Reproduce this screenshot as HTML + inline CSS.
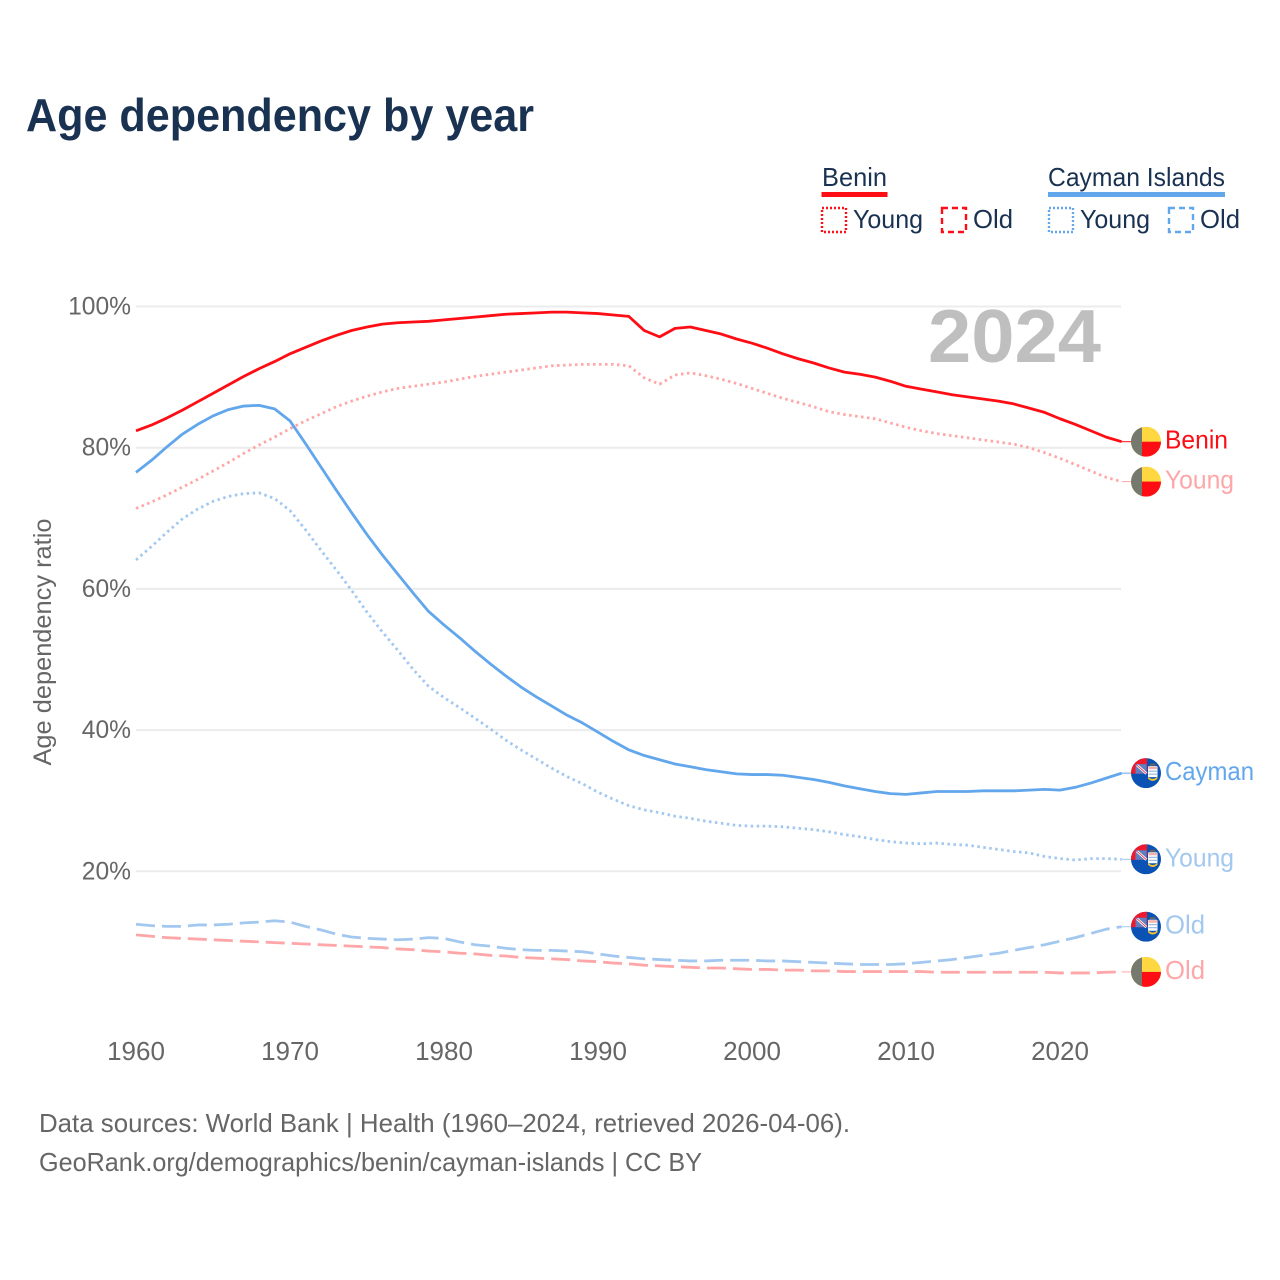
<!DOCTYPE html>
<html lang="en">
<head>
<meta charset="utf-8">
<title>Age dependency by year</title>
<style>
html,body{margin:0;padding:0;background:#fff;}
svg{display:block;font-family:"Liberation Sans",sans-serif;}
</style>
</head>
<body>
<svg id="chart" xmlns="http://www.w3.org/2000/svg" width="1280" height="1280" viewBox="0 0 1280 1280">
  <defs>
    <clipPath id="flag-clip"><circle cx="0" cy="0" r="15"/></clipPath>
    <g id="flag-benin" clip-path="url(#flag-clip)">
      <rect x="-15" y="-15" width="30" height="30" fill="#ffd740"/>
      <rect x="-4" y="0" width="19" height="15" fill="#fe0d14"/>
      <rect x="-15" y="-15" width="11" height="30" fill="#767a6e"/>
    </g>
    <g id="flag-cayman" clip-path="url(#flag-clip)">
      <rect x="-15" y="-15" width="30" height="30" fill="#0a52b3"/>
      <rect x="-15" y="-15" width="16" height="15.5" fill="#f0182c"/>
      <rect x="-10.5" y="-9" width="11" height="9.5" fill="#5f7fc0"/>
      <path d="M-9,-8 L0.5,0.5" stroke="#fff" stroke-width="2.6"/>
      <path d="M-9,-8 L0.5,0.5" stroke="#e9303f" stroke-width="0.8"/>
      <rect x="2" y="-7" width="9.5" height="11" rx="1" fill="#fff"/>
      <path d="M2.5,-2 h8.5 M2.5,1 h8.5" stroke="#8fb8e4" stroke-width="1.1"/>
      <rect x="2.5" y="-6.5" width="8.5" height="2.5" fill="#f3b0a8"/>
      <rect x="4" y="-9.5" width="5.5" height="2" fill="#66665e"/>
      <path d="M2,3.5 Q6.7,8 11.5,3.5 L11.5,5.5 Q6.7,10 2,5.5 Z" fill="#f2c230"/>
    </g>
  </defs>

  <text x="26" y="131" font-size="46" font-weight="700" fill="#1a3252" textLength="508" lengthAdjust="spacingAndGlyphs">Age dependency by year</text>

  <g>
    <g>
      <text x="822" y="186" font-size="26" fill="#1a3252" textLength="65" lengthAdjust="spacingAndGlyphs">Benin</text>
      <rect x="821.5" y="192" width="66" height="5" fill="#fe0d14"/>
      <rect x="822" y="208" width="24" height="24" fill="none" stroke="#fe0d14" stroke-width="2.4" stroke-dasharray="2 2"/>
      <text x="853" y="228" font-size="26" fill="#1a3252" textLength="70" lengthAdjust="spacingAndGlyphs">Young</text>
      <rect x="942" y="208" width="24" height="24" fill="none" stroke="#fe0d14" stroke-width="2.4" stroke-dasharray="6 4"/>
      <text x="973" y="228" font-size="26" fill="#1a3252" textLength="40" lengthAdjust="spacingAndGlyphs">Old</text>
    </g>
    <g>
      <text x="1048" y="186" font-size="26" fill="#1a3252" textLength="177" lengthAdjust="spacingAndGlyphs">Cayman Islands</text>
      <rect x="1048" y="192" width="177" height="5" fill="#62a6ec"/>
      <rect x="1049" y="208" width="24" height="24" fill="none" stroke="#62a6ec" stroke-width="2.4" stroke-dasharray="2 2"/>
      <text x="1080" y="228" font-size="26" fill="#1a3252" textLength="70" lengthAdjust="spacingAndGlyphs">Young</text>
      <rect x="1169" y="208" width="24" height="24" fill="none" stroke="#62a6ec" stroke-width="2.4" stroke-dasharray="6 4"/>
      <text x="1200" y="228" font-size="26" fill="#1a3252" textLength="40" lengthAdjust="spacingAndGlyphs">Old</text>
    </g>
  </g>

  <g id="grid"></g>
  <text x="928" y="362" font-size="75" font-weight="700" fill="#bfbfbf" textLength="173" lengthAdjust="spacingAndGlyphs">2024</text>
  <g id="y-ticks"></g>
  <g id="x-ticks"></g>
  <text transform="translate(51,642) rotate(-90)" text-anchor="middle" font-size="25" fill="#666" textLength="247" lengthAdjust="spacingAndGlyphs">Age dependency ratio</text>
  <g id="series"></g>
  <g id="end-labels"></g>

  <text x="39" y="1132" font-size="26" fill="#666" textLength="811" lengthAdjust="spacingAndGlyphs">Data sources: World Bank | Health (1960–2024, retrieved 2026-04-06).</text>
  <text x="39" y="1171" font-size="26" fill="#666" textLength="663" lengthAdjust="spacingAndGlyphs">GeoRank.org/demographics/benin/cayman-islands | CC BY</text>
</svg>
<script>
var startYear = 1960;
var xTickYears = [1960, 1970, 1980, 1990, 2000, 2010, 2020];
var yTickValues = [100, 80, 60, 40, 20];

var beninTotal = [
  82.4,83.2,84.2,85.3,86.5,87.7,88.9,90.1,91.2,92.2,
  93.3,94.2,95.1,95.9,96.6,97.1,97.5,97.7,97.8,97.9,
  98.1,98.3,98.5,98.7,98.9,99.0,99.1,99.2,99.2,99.1,
  99.0,98.8,98.6,96.6,95.7,96.9,97.1,96.6,96.1,95.4,
  94.8,94.1,93.3,92.6,92.0,91.3,90.7,90.4,90.0,89.4,
  88.7,88.3,87.9,87.5,87.2,86.9,86.6,86.2,85.6,85.0,
  84.1,83.3,82.4,81.5,80.85
];
var beninYoung = [
  71.4,72.3,73.3,74.4,75.5,76.7,77.9,79.2,80.4,81.5,
  82.7,83.8,84.8,85.8,86.6,87.3,87.9,88.4,88.7,89.0,
  89.3,89.7,90.1,90.4,90.7,91.0,91.3,91.6,91.7,91.8,
  91.8,91.8,91.6,89.9,89.0,90.3,90.6,90.2,89.7,89.1,
  88.4,87.7,87.0,86.4,85.8,85.1,84.7,84.4,84.1,83.5,
  82.9,82.4,82.0,81.7,81.4,81.1,80.8,80.5,80.0,79.3,
  78.5,77.6,76.7,75.8,75.2
];
var beninOld = [
  11.0,10.8,10.6,10.5,10.4,10.3,10.2,10.1,10.0,9.9,
  9.8,9.7,9.6,9.5,9.4,9.3,9.2,9.0,8.9,8.7,
  8.6,8.4,8.3,8.1,8.0,7.8,7.7,7.6,7.5,7.3,
  7.2,7.0,6.9,6.7,6.6,6.5,6.4,6.3,6.3,6.2,
  6.1,6.1,6.0,6.0,5.9,5.9,5.8,5.8,5.8,5.8,
  5.8,5.8,5.7,5.7,5.7,5.7,5.7,5.7,5.7,5.7,
  5.6,5.6,5.6,5.7,5.75
];
var caymanTotal = [
  76.5,78.2,80.1,81.9,83.3,84.5,85.4,85.9,86.0,85.5,
  83.8,80.6,77.3,74.0,70.8,67.7,64.8,62.1,59.4,56.8,
  54.9,53.1,51.2,49.4,47.7,46.1,44.7,43.4,42.1,41.0,
  39.7,38.4,37.2,36.4,35.8,35.2,34.8,34.4,34.1,33.8,
  33.7,33.7,33.6,33.3,33.0,32.6,32.1,31.7,31.3,31.0,
  30.9,31.1,31.3,31.3,31.3,31.4,31.4,31.4,31.5,31.6,
  31.5,31.9,32.5,33.2,33.9
];
var caymanYoung = [
  64.1,66.0,68.0,69.9,71.3,72.4,73.1,73.5,73.6,72.8,
  71.1,68.4,65.5,62.7,59.8,56.7,53.9,51.3,48.6,46.2,
  44.6,43.2,41.7,40.2,38.6,37.2,35.9,34.6,33.4,32.4,
  31.2,30.2,29.3,28.7,28.3,27.8,27.5,27.1,26.8,26.5,
  26.4,26.4,26.3,26.1,25.9,25.6,25.2,24.9,24.5,24.2,
  24.0,23.9,24.0,23.8,23.7,23.4,23.1,22.8,22.6,22.1,
  21.8,21.6,21.8,21.8,21.7
];
var caymanOld = [
  12.5,12.3,12.2,12.2,12.4,12.4,12.5,12.7,12.8,13.0,
  12.8,12.2,11.7,11.1,10.7,10.5,10.4,10.3,10.4,10.6,
  10.5,10.0,9.6,9.4,9.1,8.9,8.8,8.8,8.7,8.6,
  8.3,8.0,7.8,7.6,7.5,7.4,7.3,7.3,7.4,7.4,
  7.4,7.3,7.3,7.2,7.1,7.0,6.9,6.8,6.8,6.8,
  6.9,7.1,7.3,7.5,7.8,8.1,8.4,8.8,9.2,9.6,
  10.1,10.6,11.2,11.8,12.15
];

var SVG_NS = 'http://www.w3.org/2000/svg';
var RED = '#fe0d14', BLUE = '#62a6ec', LIGHT_RED = '#ffa6a8', LIGHT_BLUE = '#a3c8f0';
var DOTTED = '2.5 3.5', DASHED = '19 7';

function xScale(year) { return 136 + (year - 1960) * 15.4; }
function yScale(value) { return 1012.5 - value * 7.06; }
function make(tag, parent) {
  var el = document.createElementNS(SVG_NS, tag);
  parent.appendChild(el);
  return el;
}
function linePath(values) {
  var d = '';
  for (var i = 0; i < values.length; i++) {
    d += (i ? 'L' : 'M') + xScale(startYear + i).toFixed(2) + ',' + yScale(values[i]).toFixed(2);
  }
  return d;
}

var gridLayer = document.getElementById('grid');
var yLayer = document.getElementById('y-ticks');
yTickValues.forEach(function (v) {
  var line = make('line', gridLayer);
  
  
  line.setAttribute('x1', 136);
  line.setAttribute('x2', 1121);
  line.setAttribute('y1', yScale(v));
  line.setAttribute('y2', yScale(v));
  line.setAttribute('stroke', '#ececec');
  line.setAttribute('stroke-width', 2);
  var t = make('text', yLayer);
  
  
  t.setAttribute('x', 131);
  t.setAttribute('y', yScale(v) + 8);
  t.setAttribute('text-anchor', 'end');
  t.setAttribute('font-size', 24.6);
  t.setAttribute('fill', '#666');
  t.textContent = v + '%';
});

var xLayer = document.getElementById('x-ticks');
xTickYears.forEach(function (yr) {
  var t = make('text', xLayer);
  
  
  t.setAttribute('x', xScale(yr));
  t.setAttribute('y', 1060);
  t.setAttribute('text-anchor', 'middle');
  t.setAttribute('font-size', 26);
  t.setAttribute('fill', '#666');
  t.textContent = yr;
});

var seriesLayer = document.getElementById('series');
function drawSeries(name, values, color, dash, width) {
  var p = make('path', seriesLayer);
  
  
  p.setAttribute('d', linePath(values));
  p.setAttribute('fill', 'none');
  p.setAttribute('stroke', color);
  p.setAttribute('stroke-width', width);
  p.setAttribute('stroke-linejoin', 'round');
  if (dash) p.setAttribute('stroke-dasharray', dash);
}
drawSeries('line-benin-old', beninOld, LIGHT_RED, DASHED, 2.8);
drawSeries('line-cayman-old', caymanOld, LIGHT_BLUE, DASHED, 2.8);
drawSeries('line-cayman-young', caymanYoung, LIGHT_BLUE, DOTTED, 2.8);
drawSeries('line-benin-young', beninYoung, LIGHT_RED, DOTTED, 2.8);
drawSeries('line-cayman-total', caymanTotal, BLUE, null, 2.8);
drawSeries('line-benin-total', beninTotal, RED, null, 2.8);

var labelLayer = document.getElementById('end-labels');
function drawEnd(key, values, flag, text, color, textWidth) {
  var last = values[values.length - 1];
  var y = yScale(last);
  var lead = make('line', labelLayer);
  
  
  lead.setAttribute('x1', xScale(startYear + values.length - 1));
  lead.setAttribute('x2', 1132);
  lead.setAttribute('y1', y);
  lead.setAttribute('y2', y);
  lead.setAttribute('stroke', color);
  lead.setAttribute('stroke-width', 1);
  var u = make('use', labelLayer);
  
  
  u.setAttribute('href', '#' + flag);
  u.setAttribute('transform', 'translate(1146,' + y + ')');
  var t = make('text', labelLayer);
  
  
  t.setAttribute('x', 1165);
  t.setAttribute('y', y + 7);
  t.setAttribute('font-size', 26);
  t.setAttribute('fill', color);
  t.setAttribute('textLength', textWidth);
  t.setAttribute('lengthAdjust', 'spacingAndGlyphs');
  t.textContent = text;
}
drawEnd('end-benin-total', beninTotal, 'flag-benin', 'Benin', RED, 63);
drawEnd('end-benin-young', beninYoung, 'flag-benin', 'Young', LIGHT_RED, 69);
drawEnd('end-cayman-total', caymanTotal, 'flag-cayman', 'Cayman', BLUE, 89);
drawEnd('end-cayman-young', caymanYoung, 'flag-cayman', 'Young', LIGHT_BLUE, 69);
drawEnd('end-cayman-old', caymanOld, 'flag-cayman', 'Old', LIGHT_BLUE, 40);
drawEnd('end-benin-old', beninOld, 'flag-benin', 'Old', LIGHT_RED, 40);
</script>
</body>
</html>
